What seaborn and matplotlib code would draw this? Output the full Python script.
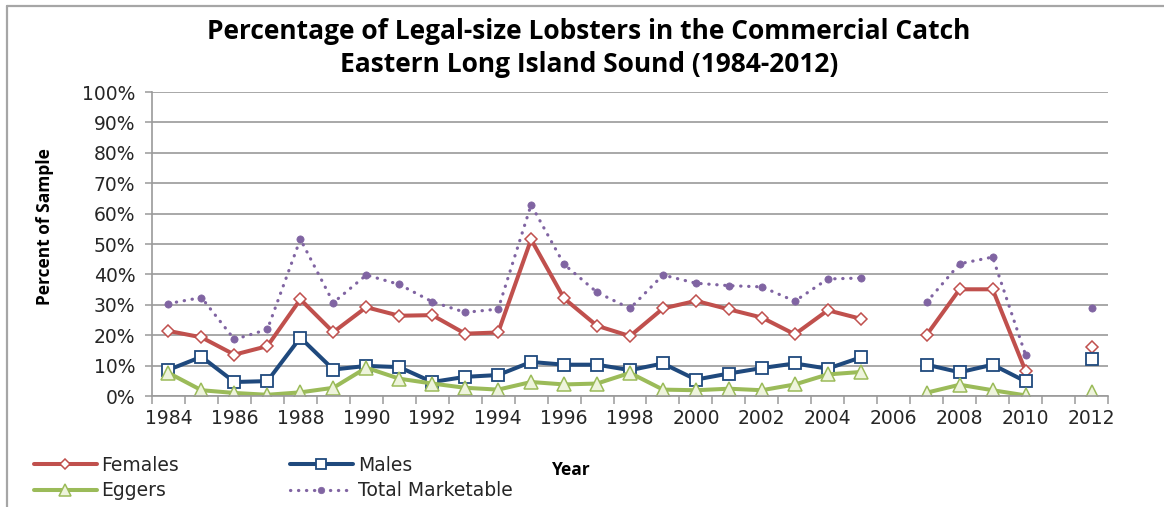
import numpy as np
import pandas as pd
import matplotlib
matplotlib.use("Agg")
import matplotlib.pyplot as plt
from matplotlib.lines import Line2D
import seaborn as sns

nan = np.nan

# Survey years and percentages of legal-size lobsters (NaN = no sample)
years = list(range(1984, 2013))
females = [21.4, 19.3, 13.6, 16.4, 31.8, 21.0, 29.2, 26.4, 26.6, 20.5,
           20.9, 51.5, 32.1, 23.1, 19.7, 28.8, 31.3, 28.5, 25.8, 20.3,
           28.2, 25.4, nan, 20.1, 35.1, 35.1, 8.2, nan, 16.2]
males = [8.6, 12.9, 4.6, 4.9, 19.2, 8.7, 9.9, 9.5, 4.6, 6.3,
         6.9, 11.2, 10.3, 10.3, 8.5, 10.7, 5.4, 7.4, 9.2, 10.7,
         9.0, 12.7, nan, 10.3, 7.8, 10.3, 4.8, nan, 12.3]
eggers = [7.6, 1.9, 1.0, 0.4, 1.2, 2.7, 9.3, 5.7, 4.1, 2.7,
          2.1, 4.6, 3.8, 4.1, 7.6, 2.1, 1.9, 2.4, 1.9, 3.8,
          7.1, 7.9, nan, 1.1, 3.7, 1.9, 0.2, nan, 1.3]
total = [30.4, 32.4, 18.6, 21.9, 51.6, 30.7, 39.8, 36.7, 31.0, 27.5,
         28.6, 62.9, 43.3, 34.1, 28.8, 39.8, 37.1, 36.3, 35.9, 31.2,
         38.5, 38.8, nan, 30.9, 43.5, 45.7, 13.5, nan, 28.9]

series_names = ["Females", "Males", "Eggers", "Total Marketable"]
series_values = [females, males, eggers, total]
y_ticks = list(range(0, 101, 10))
x_label_years = list(range(1984, 2013, 2))

title_text = ("Percentage of Legal-size Lobsters in the Commercial Catch\n"
              "Eastern Long Island Sound (1984-2012)")

sns.set_theme(style="white")
plt.rcParams["font.family"] = ["DejaVu Sans"]
bold_family = ["Open Sans", "DejaVu Sans"]

styles = {
    "Females": dict(color="#c0504d", marker="D", markersize=6.2,
                    markerfacecolor="white", markeredgecolor="#c0504d",
                    markeredgewidth=1.1, linewidth=2.9, linestyle="-"),
    "Males": dict(color="#1f497d", marker="s", markersize=8.6,
                  markerfacecolor="white", markeredgecolor="#1f497d",
                  markeredgewidth=1.3, linewidth=2.9, linestyle="-"),
    "Eggers": dict(color="#9bbb59", marker="^", markersize=10,
                   markerfacecolor="#eef4dc", markeredgecolor="#9bbb59",
                   markeredgewidth=1.1, linewidth=2.9, linestyle="-"),
    "Total Marketable": dict(color="#8064a2", marker="o", markersize=5.2,
                             markerfacecolor="#8064a2", markeredgecolor="#8064a2",
                             markeredgewidth=0.5, linewidth=2.3,
                             linestyle=(0, (0.1, 2.4)), dash_capstyle="round"),
}

W, H = 1164, 507
fig = plt.figure(figsize=(W / 100, H / 100), dpi=100)
ax = fig.add_axes([152 / W, 1 - 396 / H, (1108 - 152) / W, (396 - 92) / H])

for name, vals in zip(series_names, series_values):
    df = pd.DataFrame({"Year": years, "Value": vals})
    # break the line wherever a year is missing
    df["Segment"] = df["Value"].isna().cumsum()
    df = df.dropna()
    sns.lineplot(data=df, x="Year", y="Value", units="Segment", estimator=None,
                 ax=ax, legend=False, **styles[name])

grid_color = "#9a9a9a"
ax.set_xlim(1983.5, 2012.5)
ax.set_ylim(0, 100)
ax.set_yticks(y_ticks)
ax.set_yticklabels([f"{v}%" for v in y_ticks])
ax.yaxis.grid(True, color=grid_color, linewidth=1.2)
ax.xaxis.grid(False)
ax.set_axisbelow(True)
ax.set_xticks(x_label_years)
ax.set_xticklabels([str(y) for y in x_label_years])
ax.set_xticks([y - 0.5 for y in years] + [2012.5], minor=True)
ax.tick_params(axis="x", which="major", length=0, pad=9, labelsize=13.5,
               labelcolor="#262626")
ax.tick_params(axis="x", which="minor", length=6, width=1.1, color=grid_color,
               direction="out", bottom=True)
ax.tick_params(axis="y", length=5, width=1.1, color=grid_color, direction="out",
               left=True, pad=7, labelsize=13.5, labelcolor="#262626")
for s in ["top", "right"]:
    ax.spines[s].set_visible(False)
for s in ["left", "bottom"]:
    ax.spines[s].set_color(grid_color)
    ax.spines[s].set_linewidth(1.2)
ax.set_xlabel("")
ax.set_ylabel("")

fig.text(45 / W, 1 - 227 / H, "Percent of Sample", rotation=90, ha="center",
         va="center", fontsize=12.5, fontweight="bold", family=bold_family,
         color="black")
fig.text(589 / W, 1 - 48 / H, title_text, ha="center", va="center",
         fontsize=19, fontweight="bold", linespacing=1.28, color="black",
         family=bold_family)
fig.text(571 / W, 1 - 470 / H, "Year", ha="center", va="center",
         fontsize=12.5, fontweight="bold", color="black", family=bold_family)

handles = []
for name in ["Females", "Eggers", "Males", "Total Marketable"]:
    handles.append(Line2D([], [], label=name, **styles[name]))
leg = fig.legend(handles=handles, ncol=2, loc="center left",
                 bbox_to_anchor=(17 / W, 1 - 478 / H), frameon=False,
                 fontsize=13.5, handlelength=3.36, handletextpad=0.25,
                 columnspacing=5.9, labelspacing=0.36, markerscale=0.9)
for t in leg.get_texts():
    t.set_color("#262626")

# chart frame
fig.add_artist(Line2D([7 / W, 7 / W], [0, 1 - 6 / H], color="#a6a6a6",
                      linewidth=1.6, transform=fig.transFigure))
fig.add_artist(Line2D([7 / W, 1], [1 - 6 / H, 1 - 6 / H], color="#a6a6a6",
                      linewidth=1.6, transform=fig.transFigure))

fig.savefig("out.png", dpi=100)
